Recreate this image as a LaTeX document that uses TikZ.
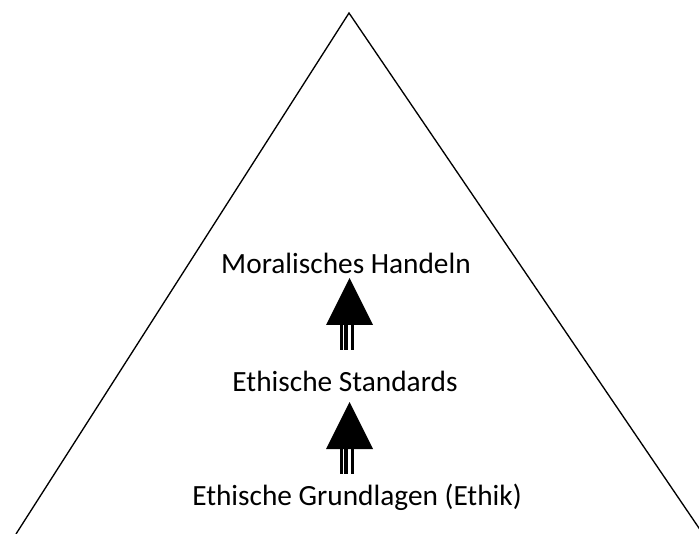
\documentclass[tikz,border=0pt]{standalone}
\usepackage{fontspec}
\setmainfont{Carlito}
\usetikzlibrary{calc}

\tikzset{
  lbl/.style={font=\fontsize{22}{26}\selectfont, inner sep=0pt},
  stemarrow/.pic={
    \fill (0,0) -- (-23.5,47) -- (23.5,47) -- cycle;
    \fill (-9.5,46) rectangle (-7,72);
    \fill (-5.5,46) rectangle (-1.5,72);
    \fill (1.5,46) rectangle (4,72);
  }
}

\begin{document}
\begin{tikzpicture}[x=0.75pt,y=-0.75pt]
  \useasboundingbox (0,0) rectangle (699,534);
  \clip (0,0) rectangle (699,534);
  % pyramid
  \draw[line width=1pt] (16,534) -- (349,13) -- (703,534);
  % levels
  \node[lbl] (handeln) at (346,263) {Moralisches Handeln};
  \node[lbl] (standards) at (345,381) {Ethische Standards};
  \node[lbl] (grundlagen) at (357,497) {Ethische Grundlagen (Ethik)};
  % arrows
  \coordinate (tipA) at (349.5,278);
  \coordinate (tipB) at (349.5,402);
  \pic at (tipA) {stemarrow};
  \pic at (tipB) {stemarrow};
\end{tikzpicture}
\end{document}
